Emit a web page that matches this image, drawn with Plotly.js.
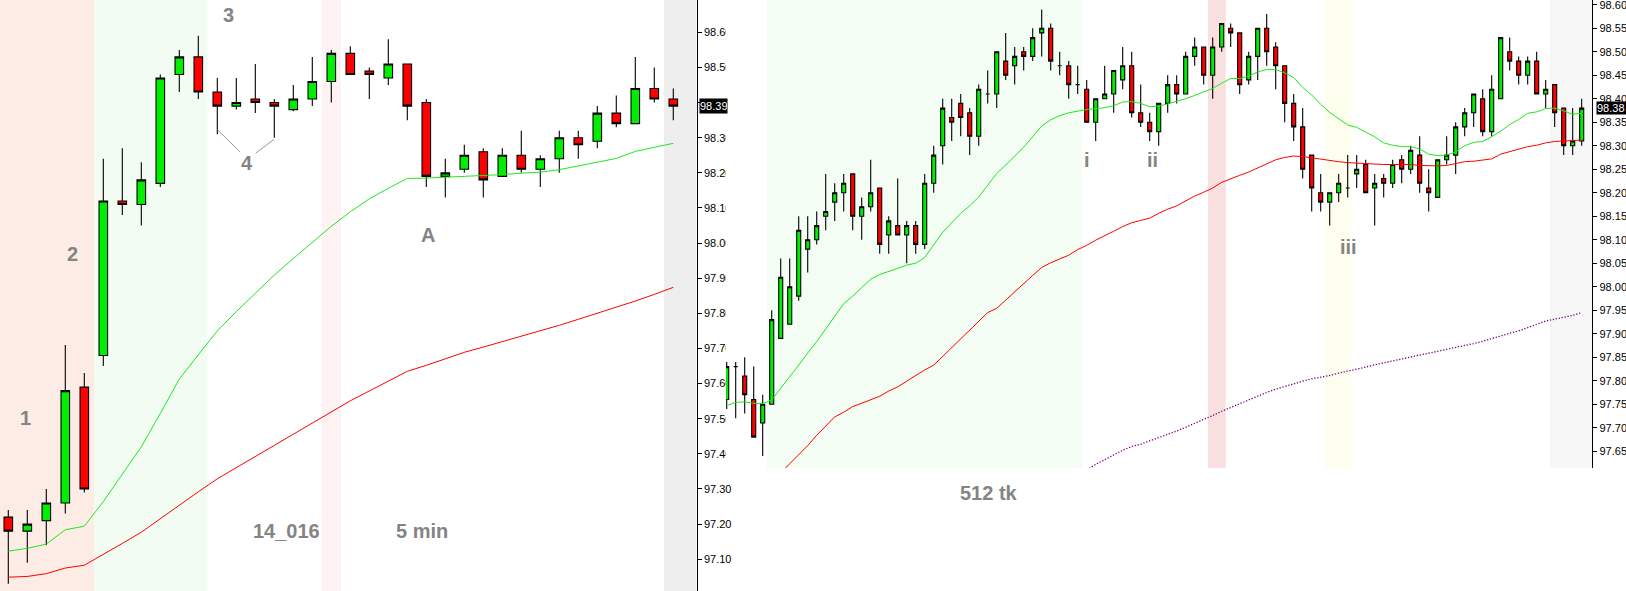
<!DOCTYPE html>
<html>
<head>
<meta charset="utf-8">
<script src="https://cdn.plot.ly/plotly-3.0.1.min.js"></script>
<style>
html,body{margin:0;padding:0;background:#fff;overflow:hidden}
#chart{width:1626px;height:591px}
</style>
</head>
<body>
<div id="chart"></div>
<script>
// ---------------- LEFT PANEL (5 min) ----------------
const leftOpen  = [97.22,97.18,97.21,97.26,97.59,97.68,98.12,98.11,98.17,98.48,98.53,98.43,98.39,98.41,98.40,98.38,98.41,98.46,98.54,98.49,98.47,98.51,98.40,98.19,98.21,98.26,98.19,98.25,98.21,98.24,98.30,98.29,98.37,98.34,98.44,98.41];
const leftHigh  = [97.24,97.24,97.30,97.71,97.63,98.24,98.27,98.23,98.48,98.55,98.59,98.47,98.47,98.51,98.41,98.45,98.53,98.55,98.56,98.50,98.58,98.51,98.41,98.24,98.28,98.27,98.27,98.32,98.25,98.32,98.32,98.39,98.42,98.53,98.50,98.44];
const leftLow   = [97.03,97.09,97.14,97.23,97.29,97.65,98.08,98.05,98.16,98.43,98.41,98.31,98.38,98.37,98.30,98.375,98.39,98.40,98.48,98.41,98.45,98.35,98.16,98.13,98.20,98.13,98.19,98.20,98.16,98.20,98.24,98.27,98.33,98.34,98.40,98.35];
const leftClose = [97.18,97.20,97.26,97.58,97.30,98.12,98.11,98.18,98.47,98.53,98.43,98.39,98.40,98.40,98.39,98.41,98.46,98.54,98.48,98.48,98.51,98.39,98.19,98.20,98.25,98.18,98.25,98.21,98.24,98.30,98.28,98.37,98.34,98.44,98.41,98.39];
const leftFastMA = [97.123,97.131,97.143,97.184,97.194,97.264,97.342,97.420,97.515,97.613,97.682,97.750,97.805,97.858,97.909,97.956,98.002,98.048,98.089,98.126,98.156,98.184,98.185,98.187,98.190,98.192,98.195,98.199,98.202,98.209,98.219,98.230,98.241,98.261,98.273,98.284];
const leftSlowMA = [97.049,97.051,97.059,97.075,97.083,97.113,97.145,97.177,97.216,97.255,97.292,97.329,97.361,97.393,97.424,97.456,97.487,97.519,97.551,97.579,97.607,97.635,97.652,97.671,97.689,97.704,97.719,97.734,97.749,97.766,97.783,97.800,97.816,97.835,97.854,97.874];
const leftTicks = [97.00,97.10,97.20,97.30,97.40,97.50,97.60,97.70,97.80,97.90,98.00,98.10,98.20,98.30,98.40,98.50,98.60];
const leftLast = 98.39;

// ---------------- RIGHT PANEL (512 tick) ----------------
const rightOpen  = [97.76,97.83,97.81,97.76,97.71,97.75,97.89,97.92,97.98,98.08,98.10,98.15,98.18,98.20,98.24,98.15,98.17,98.21,98.11,98.13,98.11,98.13,98.09,98.22,98.30,98.36,98.39,98.37,98.32,98.41,98.41,98.48,98.47,98.50,98.49,98.54,98.55,98.47,98.47,98.43,98.42,98.35,98.40,98.41,98.44,98.47,98.37,98.35,98.33,98.39,98.43,98.41,98.49,98.51,98.45,98.51,98.55,98.54,98.44,98.49,98.55,98.51,98.47,98.39,98.34,98.28,98.20,98.18,98.20,98.21,98.24,98.26,98.21,98.23,98.22,98.27,98.25,98.28,98.21,98.19,98.27,98.28,98.34,98.37,98.40,98.33,98.40,98.50,98.48,98.45,98.48,98.41,98.43,98.38,98.30,98.31];
const rightHigh  = [97.84,97.84,97.85,97.83,97.77,97.95,98.06,98.06,98.15,98.15,98.16,98.24,98.22,98.24,98.24,98.19,98.27,98.21,98.15,98.23,98.14,98.14,98.24,98.30,98.40,98.40,98.41,98.38,98.43,98.46,98.50,98.54,98.51,98.51,98.55,98.59,98.56,98.50,98.48,98.47,98.44,98.40,98.47,98.46,98.51,98.50,98.43,98.37,98.39,98.45,98.45,98.50,98.53,98.51,98.53,98.56,98.56,98.54,98.50,98.55,98.58,98.52,98.47,98.41,98.38,98.28,98.24,98.20,98.24,98.28,98.28,98.27,98.24,98.24,98.27,98.28,98.30,98.32,98.25,98.27,98.32,98.35,98.38,98.41,98.42,98.45,98.53,98.53,98.49,98.49,98.50,98.44,98.43,98.38,98.38,98.40];
const rightLow   = [97.74,97.72,97.73,97.68,97.64,97.75,97.89,97.92,97.97,98.03,98.09,98.12,98.14,98.16,98.12,98.10,98.16,98.07,98.07,98.11,98.05,98.07,98.08,98.20,98.26,98.31,98.32,98.28,98.30,98.39,98.38,98.44,98.43,98.46,98.48,98.49,98.46,98.45,98.40,98.41,98.35,98.31,98.40,98.37,98.42,98.36,98.34,98.31,98.30,98.37,98.39,98.41,98.47,98.43,98.40,98.50,98.51,98.41,98.43,98.44,98.47,98.42,98.35,98.31,98.23,98.16,98.16,98.13,98.18,98.19,98.21,98.20,98.13,98.19,98.21,98.22,98.24,98.20,98.16,98.19,98.26,98.24,98.32,98.34,98.32,98.32,98.40,98.46,98.43,98.43,98.41,98.38,98.34,98.28,98.28,98.30];
const rightClose = [97.83,97.83,97.77,97.68,97.75,97.93,98.02,98.00,98.12,98.10,98.13,98.16,98.20,98.22,98.15,98.17,98.20,98.09,98.14,98.11,98.13,98.09,98.22,98.28,98.38,98.35,98.36,98.32,98.42,98.41,98.50,98.45,98.49,98.49,98.53,98.55,98.48,98.47,98.43,98.43,98.35,98.40,98.41,98.46,98.47,98.37,98.35,98.33,98.39,98.43,98.41,98.49,98.51,98.45,98.51,98.56,98.54,98.43,98.49,98.55,98.50,98.47,98.39,98.34,98.25,98.21,98.18,98.20,98.22,98.21,98.25,98.20,98.22,98.22,98.26,98.25,98.29,98.22,98.20,98.27,98.28,98.34,98.37,98.41,98.33,98.42,98.53,98.48,98.45,98.48,98.41,98.42,98.37,98.30,98.31,98.38];
const rightFastMA = [97.747,97.754,97.755,97.752,97.751,97.759,97.784,97.808,97.833,97.859,97.883,97.910,97.936,97.964,97.980,97.997,98.016,98.026,98.032,98.039,98.046,98.050,98.062,98.090,98.116,98.136,98.156,98.172,98.191,98.216,98.241,98.259,98.277,98.297,98.319,98.342,98.355,98.364,98.370,98.374,98.377,98.379,98.381,98.385,98.393,98.394,98.390,98.383,98.384,98.389,98.394,98.400,98.407,98.414,98.422,98.433,98.443,98.443,98.448,98.457,98.462,98.462,98.455,98.445,98.424,98.408,98.388,98.371,98.357,98.344,98.339,98.329,98.319,98.306,98.301,98.298,98.298,98.293,98.282,98.279,98.280,98.287,98.300,98.307,98.309,98.319,98.331,98.345,98.356,98.369,98.372,98.379,98.380,98.374,98.367,98.369];
const rightSlowMA = [null,null,null,null,null,null,97.604,97.623,97.643,97.662,97.684,97.704,97.723,97.733,97.745,97.752,97.760,97.767,97.778,97.787,97.799,97.811,97.823,97.833,97.852,97.869,97.889,97.909,97.928,97.945,97.954,97.972,97.989,98.006,98.024,98.041,98.051,98.059,98.067,98.079,98.088,98.099,98.108,98.118,98.128,98.136,98.141,98.146,98.156,98.165,98.172,98.182,98.193,98.201,98.210,98.222,98.230,98.237,98.244,98.253,98.262,98.270,98.275,98.278,98.277,98.274,98.271,98.269,98.266,98.264,98.263,98.262,98.260,98.260,98.260,98.260,98.260,98.258,98.257,98.257,98.258,98.262,98.266,98.267,98.270,98.272,98.282,98.287,98.292,98.298,98.301,98.306,98.309,98.310,98.310,98.312];
const rightLongMA = [null,null,null,null,null,null,null,null,null,null,null,null,null,null,null,null,null,null,null,null,null,null,null,null,null,null,null,null,null,null,null,null,null,null,null,null,null,null,null,null,97.610,97.622,97.632,97.642,97.652,97.660,97.665,97.672,97.679,97.685,97.693,97.701,97.709,97.718,97.726,97.735,97.743,97.752,97.760,97.767,97.775,97.782,97.788,97.794,97.799,97.804,97.807,97.811,97.816,97.820,97.824,97.829,97.834,97.838,97.842,97.846,97.850,97.854,97.858,97.862,97.866,97.870,97.874,97.879,97.884,97.889,97.895,97.901,97.906,97.913,97.920,97.927,97.931,97.935,97.939,97.945];
const rightTicks = [97.65,97.70,97.75,97.80,97.85,97.90,97.95,98.00,98.05,98.10,98.15,98.20,98.25,98.30,98.35,98.40,98.45,98.50,98.55,98.60];
const rightLast = 98.38;

// ---------------- styling / layout helpers ----------------
const W = 1626, H = 591;
const px = v => v / W;
const py = v => 1 - v / H;
const leftX = leftOpen.map((_, i) => i);
const rightX = rightOpen.map((_, i) => i);

const LX = [-0.437, 36.232], LY = [97.0096, 98.692];
const RX = [-0.078, 96.18], RY = [97.6143, 98.610];

const TICKFONT = {family: 'Liberation Sans, Arial, sans-serif', size: 11, color: '#000'};
const NOTE = {family: 'Liberation Sans, Arial, sans-serif', size: 20, color: '#848484'};

function candles(o, h, l, c, x, xa, ya) {
  return {
    type: 'candlestick', x: x, open: o, high: h, low: l, close: c,
    xaxis: xa, yaxis: ya, whiskerwidth: 0, hoverinfo: 'skip', showlegend: false,
    increasing: {fillcolor: '#00ee00', line: {color: '#000', width: 1.1}},
    decreasing: {fillcolor: '#ff0000', line: {color: '#000', width: 1.1}}
  };
}
function maLine(x, y, color, xa, ya, dash, w) {
  return {
    type: 'scatter', mode: 'lines', x: x, y: y, xaxis: xa, yaxis: ya,
    line: {color: color, width: w || 1, dash: dash || 'solid'},
    hoverinfo: 'skip', showlegend: false, connectgaps: false
  };
}

const data = [
  maLine(leftX, leftSlowMA, '#ff0000', 'x', 'y'),
  maLine(leftX, leftFastMA, '#1ee81e', 'x', 'y'),
  candles(leftOpen, leftHigh, leftLow, leftClose, leftX, 'x', 'y'),
  maLine(rightX, rightLongMA, '#800080', 'x2', 'y2', '1.3px,1.7px', 1.3),
  maLine(rightX, rightSlowMA, '#ff0000', 'x2', 'y2'),
  maLine(rightX, rightFastMA, '#1ee81e', 'x2', 'y2'),
  candles(rightOpen, rightHigh, rightLow, rightClose, rightX, 'x2', 'y2')
];

// background zones [from, to, colour] in bar-index units
const leftZones = [[LX[0], 4.51, '#fdece5'], [4.51, 10.49, '#f2fcf2'], [16.51, 17.51, '#fef3f2'], [34.51, LX[1], '#eeeeee']];
const rightZones = [[4.48, 39.48, '#f3fdf3'], [53.48, 55.44, '#f9dfdf'], [66.48, 69.44, '#fefeee'], [91.48, RX[1], '#f7f7f7']];

const shapes = [];
leftZones.forEach(z => shapes.push({type: 'rect', xref: 'x', yref: 'y', x0: z[0], x1: z[1], y0: LY[0], y1: LY[1], fillcolor: z[2], line: {width: 0}, layer: 'below'}));
shapes.push({type: 'rect', xref: 'x2', yref: 'y2', x0: RX[0], x1: RX[1], y0: RY[0], y1: RY[1], fillcolor: '#ffffff', line: {width: 0}, layer: 'below'});
rightZones.forEach(z => shapes.push({type: 'rect', xref: 'x2', yref: 'y2', x0: z[0], x1: z[1], y0: RY[0], y1: RY[1], fillcolor: z[2], line: {width: 0}, layer: 'below'}));
// pointer lines for label "4"
shapes.push({type: 'line', xref: 'x', yref: 'y', x0: 11.02, y0: 98.322, x1: 12.19, y1: 98.26, line: {color: '#999999', width: 1}});
shapes.push({type: 'line', xref: 'x', yref: 'y', x0: 13.02, y0: 98.256, x1: 13.98, y1: 98.295, line: {color: '#999999', width: 1}});

function note(text, x, y) {
  return {xref: 'paper', yref: 'paper', x: px(x), y: py(y), xanchor: 'center', yanchor: 'middle',
    text: '<b>' + text + '</b>', showarrow: false, font: NOTE};
}
const annotations = [
  note('1', 26, 418), note('2', 72.7, 254), note('3', 228.3, 15), note('4', 246.7, 163),
  note('A', 427.7, 235), note('14_016', 286, 530.5), note('5 min', 422.2, 530.5),
  note('512 tk', 989, 493.3), note('i', 1087.3, 160), note('ii', 1152, 160), note('iii', 1348.3, 247),
  {xref: 'paper', yref: 'y', x: px(699.3), y: leftLast, xanchor: 'left', yanchor: 'middle',
   text: leftLast.toFixed(2), showarrow: false, bgcolor: '#000', borderpad: 0, width: 27, height: 14, align: 'left',
   font: {family: TICKFONT.family, size: 11, color: '#fff'}},
  {xref: 'paper', yref: 'y2', x: px(1595.7), y: rightLast, xanchor: 'left', yanchor: 'middle',
   text: rightLast.toFixed(2), showarrow: false, bgcolor: '#000', borderpad: 0, width: 31, height: 12, align: 'left',
   font: {family: TICKFONT.family, size: 11, color: '#fff'}}
];

const yCommon = {side: 'right', showline: true, linecolor: '#000', linewidth: 1, ticks: 'outside', ticklen: 4,
  tickcolor: '#000', tickwidth: 1, showgrid: false, zeroline: false, tickfont: TICKFONT, fixedrange: true,
  ticklabeloverflow: 'allow'};

const layout = {
  width: W, height: H,
  margin: {l: 0, r: 0, t: 0, b: 0, pad: 0},
  paper_bgcolor: '#ffffff', plot_bgcolor: 'rgba(0,0,0,0)',
  showlegend: false, dragmode: false, hovermode: false,
  boxgap: 0.55, boxgroupgap: 0,
  xaxis: {domain: [0, px(696.7)], range: LX, visible: false, fixedrange: true, rangeslider: {visible: false}, anchor: 'y'},
  yaxis: Object.assign({}, yCommon, {domain: [0, 1], range: LY, anchor: 'x',
    tickvals: leftTicks,
    // the 98.40 label is hidden behind the last-price box in the reference
    ticktext: leftTicks.map(v => Math.abs(v - 98.40) < 1e-9 ? '' : v.toFixed(2))}),
  xaxis2: {domain: [px(726), px(1592.3)], range: RX, visible: false, fixedrange: true, rangeslider: {visible: false}, anchor: 'y2'},
  yaxis2: Object.assign({}, yCommon, {domain: [1 - 468 / H, 1], range: RY, anchor: 'x2',
    tickvals: rightTicks, ticktext: rightTicks.map(v => v.toFixed(2))}),
  shapes: shapes,
  annotations: annotations
};

Plotly.newPlot('chart', data, layout, {staticPlot: true, displayModeBar: false});
</script>
</body>
</html>
